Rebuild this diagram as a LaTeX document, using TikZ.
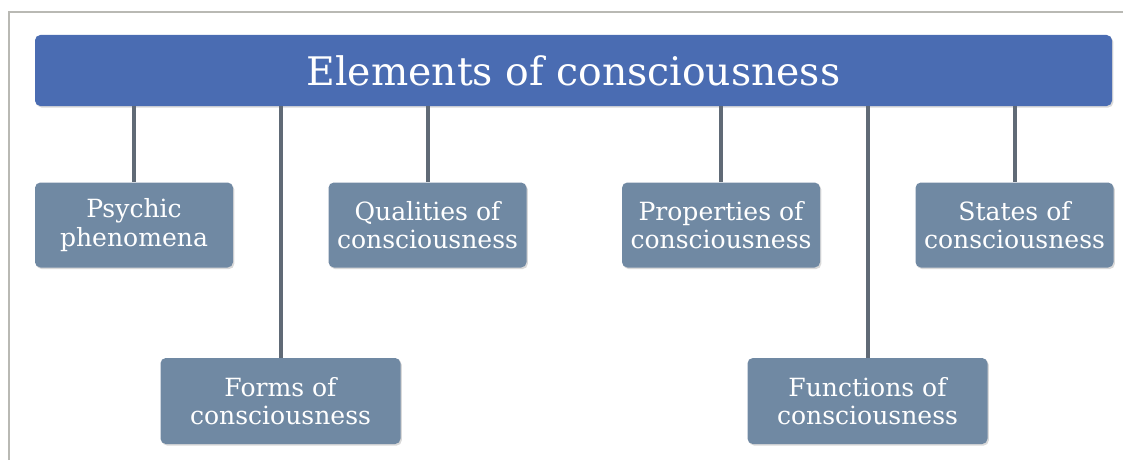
\documentclass[tikz,border=0pt]{standalone}
\usepackage{fontspec}
\setmainfont{DejaVu Serif}
\usepackage{xcolor}
\usetikzlibrary{shadows}
\definecolor{barblue}{RGB}{74,108,178}
\definecolor{boxgrey}{RGB}{112,137,163}
\definecolor{stemgrey}{RGB}{96,106,118}
\definecolor{framegrey}{RGB}{185,185,180}
\tikzset{titlebar/.style={fill=barblue,rounded corners=4pt,text=white,
   minimum width=807.75pt,minimum height=53.25pt,inner sep=0pt,
   font=\fontsize{29.5}{34}\selectfont,
   drop shadow={shadow xshift=1pt,shadow yshift=-1.2pt,opacity=0.3}},
 elem/.style={fill=boxgrey,rounded corners=4pt,text=white,align=center,
   minimum width=148.5pt,minimum height=63.75pt,inner sep=0pt,
   font=\fontsize{18.8}{21.5}\selectfont,
   drop shadow={shadow xshift=1pt,shadow yshift=-1.2pt,opacity=0.3}},
 wideelem/.style={elem,minimum width=180pt,minimum height=64.5pt},
 stem/.style={draw=stemgrey,line width=3pt},
 }

\begin{document}
\begin{tikzpicture}[x=0.75pt,y=-0.75pt]
        \useasboundingbox (0,0) rectangle (1123,460);
        \draw[framegrey,line width=1pt] (9,460) -- (9,12) -- (1123,12);
        \node[titlebar] (top) at (573.5,70.5) {Elements of consciousness};
        \node[elem] (psy) at (134,225) {Psychic\\phenomena};
        \node[elem] (qual) at (427.5,225) {Qualities of\\consciousness};
        \node[elem] (prop) at (721,225) {Properties of\\consciousness};
        \node[elem] (stat) at (1014.5,225) {States of\\consciousness};
        \node[wideelem] (form) at (280.5,401) {Forms of\\consciousness};
        \node[wideelem] (func) at (867.5,401) {Functions of\\consciousness};
        \foreach \e in {psy,qual,prop,stat,form,func}
            \draw[stem] (top.south -| \e.north) -- (\e.north);
    \end{tikzpicture}
\end{document}
